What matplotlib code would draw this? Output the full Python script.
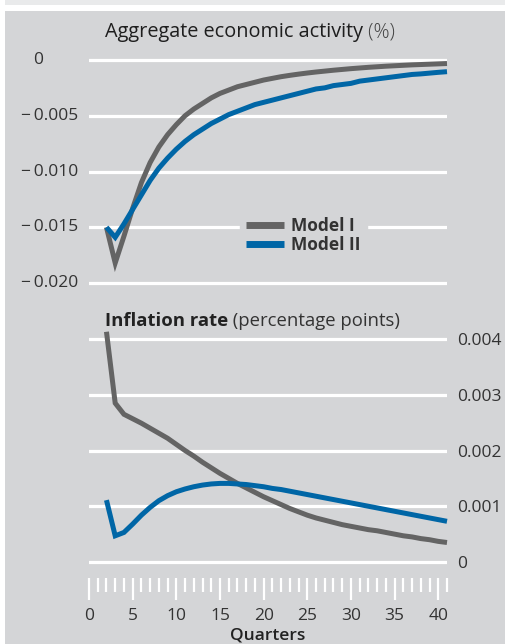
import matplotlib
matplotlib.use("Agg")
import matplotlib.pyplot as plt
from matplotlib.patches import Rectangle
from matplotlib.text import Annotation
from matplotlib.transforms import blended_transform_factory

plt.rcParams['font.family'] = ['Open Sans', 'DejaVu Sans']

# ---------------- data ----------------
quarters = list(range(2, 42))

activity_model1 = [-0.0150, -0.0182, -0.0158, -0.0133, -0.0110, -0.0092, -0.0078, -0.0067,
                   -0.0058, -0.0050, -0.0044, -0.0039, -0.0034, -0.0030, -0.0027, -0.0024,
                   -0.0022, -0.0020, -0.0018, -0.00165, -0.0015, -0.00138, -0.00127, -0.00117,
                   -0.00108, -0.00100, -0.00092, -0.00085, -0.00078, -0.00072, -0.00066,
                   -0.00061, -0.00056, -0.00052, -0.00048, -0.00044, -0.00041, -0.00038,
                   -0.00035, -0.00032]
activity_model2 = [-0.0150, -0.0159, -0.0147, -0.0134, -0.0121, -0.0108, -0.0097, -0.0088,
                   -0.0080, -0.0073, -0.0067, -0.0062, -0.0057, -0.0053, -0.0049, -0.0046,
                   -0.0043, -0.0040, -0.0038, -0.0036, -0.0034, -0.0032, -0.0030, -0.0028,
                   -0.0026, -0.0025, -0.0023, -0.0022, -0.0021, -0.0019, -0.0018, -0.0017,
                   -0.0016, -0.0015, -0.0014, -0.0013, -0.00125, -0.00118, -0.00111, -0.00105]

inflation_model1 = [0.00413, 0.00285, 0.00265, 0.00257, 0.00249, 0.00240, 0.00231, 0.00222,
                    0.00211, 0.00200, 0.00190, 0.00179, 0.00169, 0.00159, 0.00150, 0.00141,
                    0.00133, 0.00125, 0.00117, 0.00110, 0.00103, 0.00096, 0.00090, 0.00084,
                    0.00079, 0.00075, 0.00071, 0.00067, 0.00064, 0.00061, 0.00058, 0.00056,
                    0.00053, 0.00050, 0.00047, 0.00045, 0.00042, 0.00040, 0.00037, 0.00035]
inflation_model2 = [0.00111, 0.00047, 0.00053, 0.00068, 0.00084, 0.00098, 0.00110, 0.00119,
                    0.00126, 0.00131, 0.00135, 0.00138, 0.00140, 0.00141, 0.00141, 0.00140,
                    0.00139, 0.00137, 0.00135, 0.00132, 0.00130, 0.00127, 0.00124, 0.00121,
                    0.00118, 0.00115, 0.00112, 0.00109, 0.00106, 0.00103, 0.00100, 0.00097,
                    0.00094, 0.00091, 0.00088, 0.00085, 0.00082, 0.00079, 0.00076, 0.00073]

series_labels = ["Model I", "Model II"]
top_yticks = [0, -0.005, -0.010, -0.015, -0.020]
top_yticklabels = ["0", "\u2212\u20090.005", "\u2212\u20090.010", "\u2212\u20090.015", "\u2212\u20090.020"]
bot_yticks = [0, 0.001, 0.002, 0.003, 0.004]
bot_yticklabels = ["0", "0.001", "0.002", "0.003", "0.004"]
xticks_major = list(range(0, 41, 5))
xticks_minor = [q for q in range(0, 42) if q % 5 != 0]

# ---------------- style ----------------
W, H = 505, 644
BG = '#d4d5d7'
STRIP = '#e9eaeb'
GREY = '#646464'
BLUE = '#0066a6'
TXT = '#333333'
FS = 12.5

fig = plt.figure(figsize=(W / 100, H / 100), dpi=100)
fig.patch.set_facecolor('white')
fig.patches.append(Rectangle((5 / W, 0), 500 / W, (H - 11) / H, transform=fig.transFigure,
                             facecolor=BG, edgecolor='none', zorder=-10))
fig.patches.append(Rectangle((5 / W, (H - 5) / H), 500 / W, 5 / H, transform=fig.transFigure,
                             facecolor=STRIP, edgecolor='none', zorder=-10))

left = 89 / W
width = 358 / W

ax1 = fig.add_axes([left, 1 - 299.8 / H, width, 251.0 / H])
ax2 = fig.add_axes([left, 1 - 578 / H, width, 255.7 / H])

for ax in (ax1, ax2):
    ax.set_facecolor('none')
    for s in ax.spines.values():
        s.set_visible(False)
    ax.set_xlim(0, 41)
    ax.grid(axis='y', color='white', linewidth=2.3)
    ax.grid(axis='x', visible=False)
    ax.set_axisbelow(True)

LW = 3.6
# top panel
ax1.set_ylim(-0.0215, 0.001)
ax1.set_yticks(top_yticks)
ax1.set_yticklabels([])
ax1.tick_params(axis='y', length=0)
ax1.set_xticks([])
l1, = ax1.plot(quarters, activity_model1, color=GREY, lw=LW, solid_joinstyle='miter',
               solid_capstyle='butt', clip_on=False, zorder=3, label=series_labels[0])
l2, = ax1.plot(quarters, activity_model2, color=BLUE, lw=LW, solid_joinstyle='miter',
               solid_capstyle='butt', clip_on=False, zorder=4, label=series_labels[1])

tr = blended_transform_factory(fig.transFigure, ax1.transData)
for v, lab in zip(top_yticks, top_yticklabels):
    xr = 43 if v == 0 else 78
    ax1.text(xr / W, v, lab, transform=tr, ha='right', va='center', fontsize=FS, color=TXT)

leg = ax1.legend(handles=[l1, l2], loc='upper left', bbox_to_anchor=(240 / W, 1 - 211 / H),
                 bbox_transform=fig.transFigure, borderaxespad=0, frameon=True,
                 facecolor=BG, edgecolor=BG, framealpha=1, fancybox=False,
                 prop={'weight': 'bold', 'size': FS}, handlelength=2.2, handletextpad=0.4,
                 labelspacing=0.05, borderpad=0.35)
for t in leg.get_texts():
    t.set_color(TXT)
for h in leg.legend_handles:
    h.set_linewidth(5)

t1 = fig.text(105 / W, 1 - 37 / H, "Aggregate economic activity", fontsize=14.3,
              color='#1e1e1e', ha='left', va='baseline', weight='normal')
a1 = Annotation(" (%)", xy=(1, 0), xycoords=t1, va='bottom', ha='left', fontsize=14.3,
                color='#444444', weight='light')
a1.set_figure(fig)
fig.texts.append(a1)

# bottom panel
ax2.set_ylim(-0.000287, 0.0043)
ax2.set_yticks(bot_yticks)
ax2.set_yticklabels(bot_yticklabels)
ax2.yaxis.tick_right()
ax2.tick_params(axis='y', length=0, pad=7, labelsize=FS, labelcolor=TXT)
ax2.plot(quarters, inflation_model1, color=GREY, lw=LW, solid_joinstyle='miter',
         solid_capstyle='butt', clip_on=False, zorder=3)
ax2.plot(quarters, inflation_model2, color=BLUE, lw=LW, solid_joinstyle='miter',
         solid_capstyle='butt', clip_on=False, zorder=4)

ax2.set_xticks(xticks_major)
ax2.set_xticks(xticks_minor, minor=True)
ax2.tick_params(axis='x', which='major', direction='out', length=15.8, width=1.6,
                color='white', pad=6, labelsize=FS, labelcolor=TXT)
ax2.tick_params(axis='x', which='minor', direction='out', length=10, width=1.6, color='white')
ax2.set_xlabel("Quarters", fontsize=FS, color='#222222', weight='semibold', labelpad=2)

t2 = fig.text(105 / W, 1 - 326 / H, "Inflation rate", fontsize=13.3, color='#222222',
              ha='left', va='baseline', weight='bold')
a2 = Annotation(" (percentage points)", xy=(1, 0), xycoords=t2, va='bottom', ha='left',
                fontsize=13.3, color='#333333')
a2.set_figure(fig)
fig.texts.append(a2)

fig.savefig("out.png", dpi=100, facecolor=fig.get_facecolor())
